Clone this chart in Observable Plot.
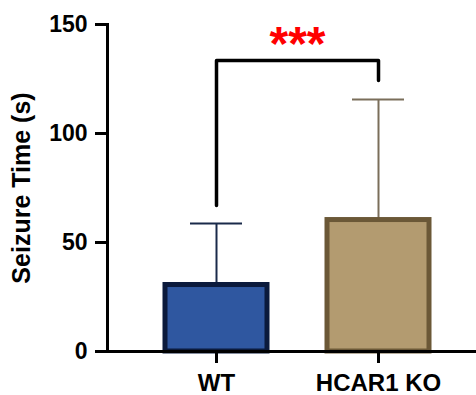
<!DOCTYPE html>
<html>
<head>
<meta charset="utf-8">
<script src="https://cdn.jsdelivr.net/npm/d3@7"></script>
<script src="https://cdn.jsdelivr.net/npm/@observablehq/plot@0.6"></script>
<style>
  html, body { margin: 0; padding: 0; background: #fff; }
  #chart { width: 476px; height: 395px; }
</style>
</head>
<body>
<div id="chart"></div>
<script>
const groups = ["WT", "HCAR1 KO"];
const means = [30.5, 60.3];
const sds = [28.2, 55.3];
const fills = ["#2f57a0", "#b39b70"];
const strokes = ["#0b1a3c", "#6b5837"];
const errColors = ["#1a2a4a", "#7a6e5a"];
const yTicks = [0, 50, 100, 150];
const bracketTop = 133.5;
const bracketLeftEnd = 67;
const bracketRightEnd = 124.3;
const sigLabel = "***";

const rows = groups.map((g, i) => ({
  group: g, mean: means[i], hi: means[i] + sds[i],
  fill: fills[i], stroke: strokes[i], err: errColors[i]
}));
const bracket = [
  {x: groups[0], y: bracketLeftEnd},
  {x: groups[0], y: bracketTop},
  {x: groups[1], y: bracketTop},
  {x: groups[1], y: bracketRightEnd}
];

const font = "'Liberation Sans', Arial, Helvetica, sans-serif";

const plot = Plot.plot({
  width: 476,
  height: 395,
  marginTop: 24,
  marginBottom: 44,
  marginLeft: 107,
  marginRight: 0,
  style: {fontFamily: font, fontWeight: "bold", fontSize: "23px", color: "#000", background: "#fff"},
  x: {type: "band", domain: groups, range: [164.5, 430.5], paddingInner: 0.368, paddingOuter: 0},
  y: {domain: [0, 150]},
  marks: [
    Plot.ruleX(rows, {x: "group", y1: "mean", y2: "hi", stroke: "err", strokeWidth: 2}),
    Plot.tickY(rows, {x: "group", y: "hi", stroke: "err", strokeWidth: 2, insetLeft: 25, insetRight: 25}),
    Plot.barY(rows, {x: "group", y: "mean", fill: "fill", stroke: "stroke", strokeWidth: 5}),
    Plot.line(bracket, {x: "x", y: "y", stroke: "#000", strokeWidth: 3.5, curve: "linear"}),
    Plot.text([sigLabel], {x: () => groups[1], y: () => bracketTop, text: d => d, dx: -81, lineAnchor: "bottom", fill: "#ff0000", fontSize: 48, fontWeight: "bold"}),
    Plot.ruleY([0], {stroke: "#000", strokeWidth: 3}),
    Plot.frame({anchor: "left", stroke: "#000", strokeWidth: 3}),
    Plot.axisY({ticks: yTicks, tickSize: 12, tickPadding: 8, strokeWidth: 3, label: null, fontSize: 23}),
    Plot.axisY({ticks: [], label: "Seizure Time (s)", labelAnchor: "center", labelOffset: 95, labelArrow: "none", fontSize: 25}),
    Plot.axisX({tickSize: 12, tickPadding: 10, strokeWidth: 3, label: null, fontSize: 24})
  ]
});
document.getElementById("chart").appendChild(plot);
</script>
</body>
</html>
